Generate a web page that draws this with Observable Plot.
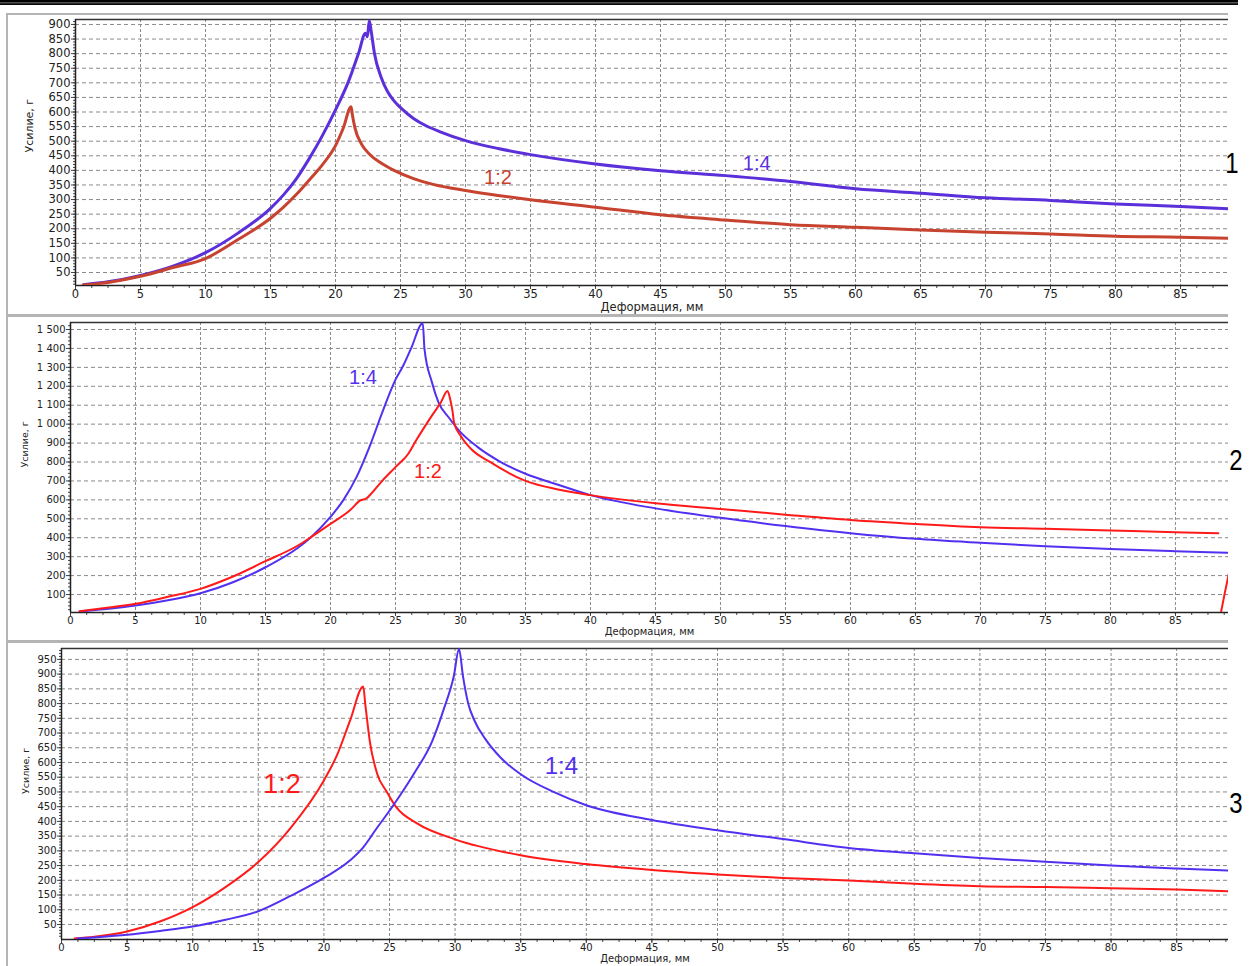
<!DOCTYPE html>
<html><head><meta charset="utf-8">
<script src="https://cdn.jsdelivr.net/npm/d3@7"></script>
<script src="https://cdn.jsdelivr.net/npm/@observablehq/plot@0.6"></script>
<style>
html,body{margin:0;padding:0;background:#fff;}
#wrap{position:relative;width:1250px;height:966px;overflow:hidden;background:#fff;}
.pl{position:absolute;left:0;}
.hl{position:absolute;background:#b4b4b4;height:2px;}
.vl{position:absolute;background:#b4b4b4;width:2px;}
.num{position:absolute;font-family:"Liberation Sans Narrow","Liberation Sans",Arial,sans-serif;font-size:30px;color:#000;line-height:1;transform:translate(-50%,-50%) scaleX(0.8);}
</style></head>
<body><div id="wrap"></div>
<script>
// ---- data: [deformation mm, force g] ----
const p1_14 = [[0.6,8],[2.5,18],[5,40],[7.5,72],[10,118],[12.5,185],[15,270],[16,316],[17,372],[18,442],[19,520],[20,607],[21,705],[21.8,805],[22.3,870],[22.45,858],[22.6,913],[22.75,875],[23,800],[23.5,720],[24,670],[24.5,638],[25,615],[26,578],[27,552],[28,533],[30,502],[32.5,475],[35,454],[40,422],[45,399],[50,382],[55,362],[60,337],[65,322],[70,306],[75,297],[80,285],[85,276],[88.7,268]];
const p1_12 = [[0.6,7],[2.5,16],[5,37],[7.5,67],[10,98],[12.5,163],[15,236],[16,274],[17,318],[18,368],[19,420],[20,485],[20.6,545],[21.2,618],[21.3,590],[21.5,545],[22,490],[22.6,456],[23.5,425],[24.5,400],[26,372],[27.5,352],[30,331],[32.5,314],[35,299],[40,274],[45,248],[50,230],[55,214],[60,205],[65,196],[70,188],[75,182],[80,174],[85,171],[88.7,167]];
const p2_14 = [[0.7,10],[2.5,22],[5,42],[7.5,70],[10,107],[12.5,165],[15,244],[17.5,347],[18.5,403],[20,510],[21,600],[22,720],[23,880],[24,1065],[25,1235],[25.6,1310],[26.2,1400],[27.1,1533],[27.23,1398],[27.8,1222],[28.3,1116],[29.1,1035],[30,958],[31.3,880],[33.1,800],[35,738],[37.5,680],[40,625],[45,555],[50,505],[55,462],[60,424],[65,394],[70,373],[75,355],[80,341],[85,329],[89,320]];
const p2_12 = [[0.7,12],[2.5,28],[5,51],[7.5,88],[10,130],[12.5,195],[15,276],[17.5,359],[18.5,403],[20,473],[21.5,545],[22.3,597],[22.8,610],[23,623],[24,702],[25,773],[26,845],[26.5,904],[27.8,1045],[28.5,1116],[29,1175],[29.2,1134],[29.4,1063],[29.5,1010],[30,940],[30.8,870],[32.3,799],[35,700],[37.5,655],[40,625],[45,582],[50,552],[55,522],[60,494],[65,473],[70,456],[75,447],[80,438],[85,429],[88.3,424]];
const p2_12tail = [[88.5,5],[88.8,110],[89.1,209]];
const p3_12 = [[1,2],[2.5,8],[5,26],[7.5,60],[10,109],[12.5,177],[15,262],[17.5,380],[20,539],[21,625],[22,743],[23,858],[23.15,800],[23.5,672],[24.06,562],[24.8,500],[25.5,449],[27.1,393],[30,339],[35,285],[40,255],[45,235],[50,220],[55,208],[60,199],[65,188],[70,180],[75,177],[80,173],[85,169],[89,163]];
const p3_14 = [[1.2,2],[2.5,6],[5,15],[7.5,28],[10,43],[12.5,66],[15,95],[17.5,148],[20,208],[22,268],[23,312],[24,375],[25.2,449],[26.86,562],[28.25,672],[29.15,783],[29.9,893],[30.3,985],[30.6,893],[31,800],[31.5,740],[32.3,680],[33.5,615],[35,560],[37.5,500],[40,455],[45,405],[50,370],[55,340],[60,310],[65,292],[70,276],[75,263],[80,250],[85,240],[89,233]];

const xTicks = [0,5,10,15,20,25,30,35,40,45,50,55,60,65,70,75,80,85];
const yTicks1 = [50,100,150,200,250,300,350,400,450,500,550,600,650,700,750,800,850,900];
const yTicks2 = [100,200,300,400,500,600,700,800,900,1000,1100,1200,1300,1400,1500];
const yTicks3 = [50,100,150,200,250,300,350,400,450,500,550,600,650,700,750,800,850,900,950];

const labels1 = [{x:32.5,y:375,t:"1:2",c:"#c8432f"},{x:52.4,y:423,t:"1:4",c:"#5b2fd9"}];
const labels2 = [{x:22.5,y:1246,t:"1:4",c:"#5330f0"},{x:27.5,y:750,t:"1:2",c:"#ff1a1a"}];
const labels3 = [{x:16.8,y:525,t:"1:2",c:"#ff1a1a"},{x:38.1,y:587,t:"1:4",c:"#5330f0"}];

const xLabel = "Деформация, мм";
const yLabel = "Усилие, г";
const sideNums = ["1","2","3"];

const fmtSpace = d => d >= 1000 ? `${Math.floor(d/1000)} ${String(d%1000).padStart(3,"0")}` : String(d);

function minors(a, b, step){ const r=[]; for(let v=a; v<=b+1e-9; v+=step) r.push(+v.toFixed(3)); return r; }

function panel(cfg){
  const toObj = (arr, s) => arr.map(([x,y]) => ({x, y, s}));
  const marks = [
    Plot.gridY(cfg.yTicks, {stroke:"#8a8a8a", strokeOpacity:1, strokeDasharray:"4,3"}),
    Plot.gridX(xTicks.filter(d=>d>0), {stroke:"#8a8a8a", strokeOpacity:1, strokeDasharray:"3,2"}),
    Plot.axisY(minors(cfg.minorY[0], cfg.yDomain[1], cfg.minorY[1]), {tickSize:2, tickFormat:()=>"", stroke:"#444", label:null}),
    Plot.axisY(cfg.yTicks, {tickSize:4, tickPadding:1, tickFormat:cfg.fmt, fontSize:cfg.tickFont, fill:"#222", label:null, stroke:"#444"}),
    Plot.axisX(minors(0, cfg.xDomain[1], 1.25), {tickSize:3, tickFormat:()=>"", stroke:"#444", label:null}),
    Plot.axisX(xTicks, {tickSize:4, tickPadding:0, fontSize:cfg.tickFont, fill:"#222", label:null, stroke:"#444"}),
    Plot.ruleY([cfg.yDomain[0]], {stroke:"#222", strokeWidth:1.5}),
    Plot.ruleY([cfg.yDomain[1]], {stroke:"#333", strokeWidth:1.5}),
    Plot.ruleX([0], {stroke:"#222", strokeWidth:1.5}),
  ];
  cfg.series.forEach(sr => {
    marks.push(Plot.line(toObj(sr.data, sr.name), {x:"x", y:"y", stroke:sr.color, strokeWidth:cfg.lw, curve:"monotone-x", clip:true}));
  });
  marks.push(Plot.text(cfg.labels, {x:"x", y:"y", text:"t", fill:d=>d.c, fontSize:d=>d.fs, fontFamily:"Liberation Sans, Arial, sans-serif", textAnchor:"middle", lineAnchor:"middle"}));
  marks.push(Plot.text([xLabel], {frameAnchor:"bottom", dy:cfg.xlDy, lineAnchor:"top", text:d=>d, fontSize:cfg.axisFont, fill:"#222"}));
  marks.push(Plot.text([yLabel], {frameAnchor:"left", dx:cfg.ylDx, rotate:-90, text:d=>d, fontSize:cfg.axisFont-0.5, fill:"#222"}));
  const svg = Plot.plot({
    width:1250, height:cfg.h,
    marginLeft:cfg.ml, marginRight:22, marginTop:cfg.mt, marginBottom:cfg.mb,
    x:{domain:cfg.xDomain, label:null}, y:{domain:cfg.yDomain, label:null},
    style:{fontFamily:"DejaVu Sans, sans-serif", background:"transparent", overflow:"visible"},
    marks
  });
  svg.classList.add("pl");
  svg.style.top = cfg.top + "px";
  document.getElementById("wrap").appendChild(svg);
}

labels1.forEach(d=>d.fs=20); labels2.forEach(d=>d.fs=20);
labels3[0].fs=27; labels3[1].fs=24;

panel({top:13, h:302, ml:75, mt:6, mb:30, xDomain:[0,88.69], yDomain:[5.5,917], yTicks:yTicks1, minorY:[10,10], fmt:d=>String(d), tickFont:11.5, axisFont:11.5, xlDy:17, ylDx:-46, lw:3,
  series:[{name:"1:4", data:p1_14, color:"#5b2fd9"},{name:"1:2", data:p1_12, color:"#c8432f"}], labels:labels1});
panel({top:315, h:326, ml:70, mt:7, mb:29, xDomain:[0,89.08], yDomain:[5,1537], yTicks:yTicks2, minorY:[20,20], fmt:fmtSpace, tickFont:10, axisFont:10, xlDy:15, ylDx:-46, lw:2,
  series:[{name:"1:4", data:p2_14, color:"#5330f0"},{name:"1:2", data:p2_12, color:"#ff1a1a"},{name:"1:2b", data:p2_12tail, color:"#ff1a1a"}], labels:labels2});
panel({top:641, h:325, ml:61, mt:7, mb:27, xDomain:[0,88.95], yDomain:[-1,987], yTicks:yTicks3, minorY:[10,10], fmt:d=>String(d), tickFont:10, axisFont:10, xlDy:15, ylDx:-36, lw:2,
  series:[{name:"1:2", data:p3_12, color:"#ff1a1a"},{name:"1:4", data:p3_14, color:"#5330f0"}], labels:labels3});

// panel borders and top rule
const wrap = document.getElementById("wrap");
function box(cls, s){ const d=document.createElement("div"); d.className=cls; Object.assign(d.style, s); wrap.appendChild(d); }
box("", {position:"absolute", left:"0px", top:"0px", width:"1238px", height:"5px", background:"linear-gradient(#000 0,#000 40%,#777 55%,#111 75%,#000 100%)"});
[[13,315],[315,641],[641,966]].forEach(([t,b])=>{
  box("hl",{left:"7px", top:t+"px", width:"1221px"});
  box("vl",{left:"6px", top:t+"px", height:(b-t)+"px"});
});
box("hl",{left:"7px", top:"314px", width:"1221px"});
box("hl",{left:"7px", top:"640px", width:"1221px"});
[[1232,163],[1236,460],[1236,803]].forEach(([x,y],i)=>{
  const d=document.createElement("div"); d.className="num"; d.textContent=sideNums[i]; d.style.left=x+"px"; d.style.top=y+"px"; wrap.appendChild(d);
});
</script></body></html>
